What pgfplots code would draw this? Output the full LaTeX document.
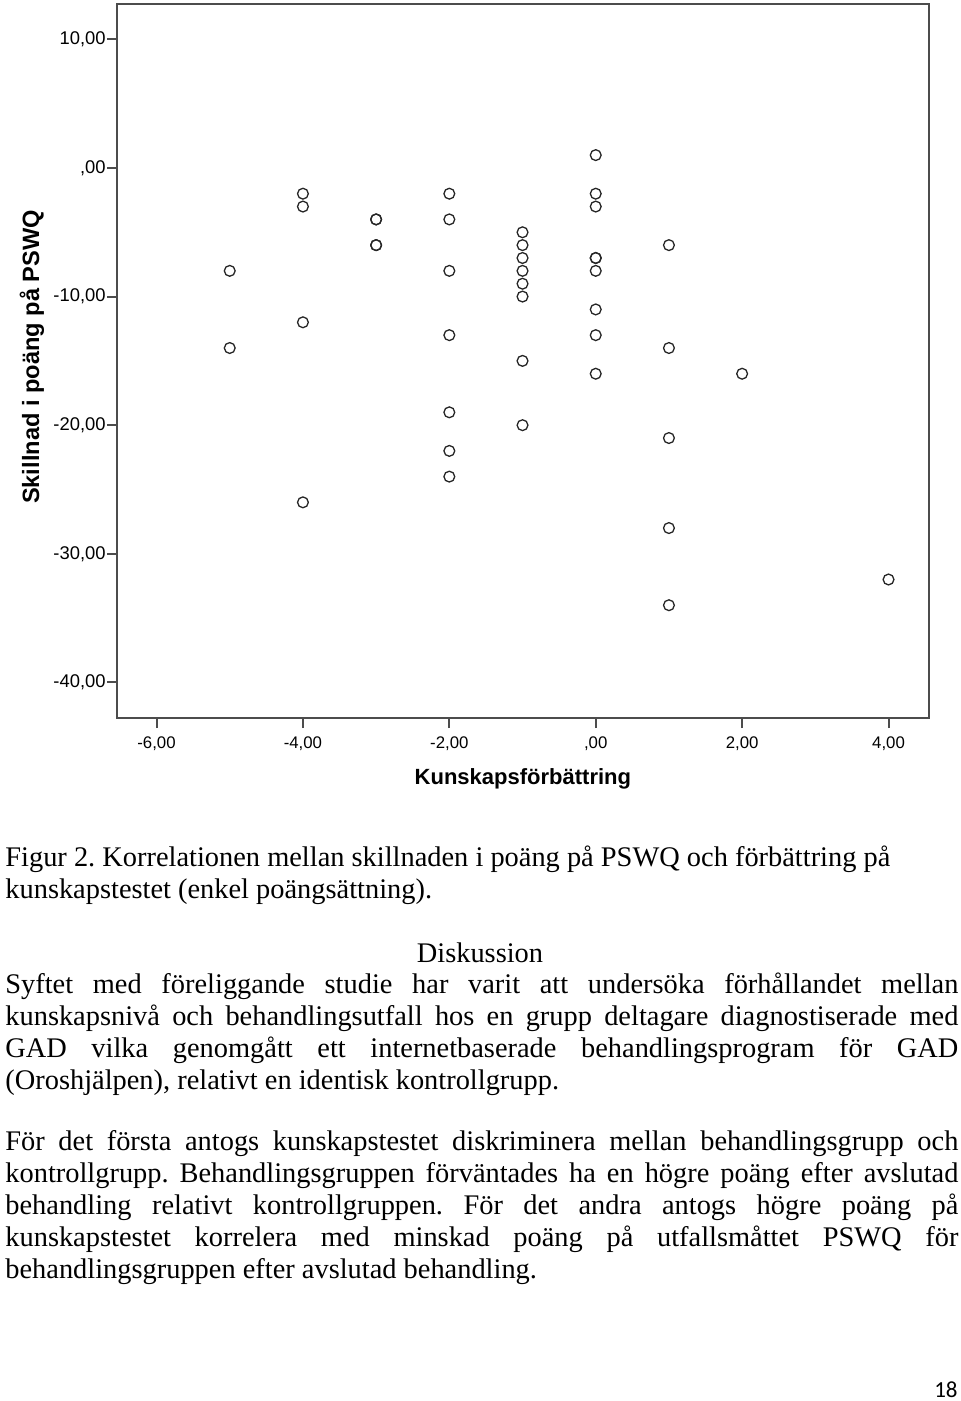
\documentclass[border=0pt]{standalone}
\usepackage{pgfplots}
\pgfplotsset{compat=1.18}
\usepackage{fontspec}
\setmainfont{Liberation Serif}
\newfontfamily\arialfont{Liberation Sans}
\newfontfamily\calibrifont{Carlito}
\frenchspacing

% one justified line of body text, baseline at y = -#1
\newcommand{\jline}[2]{\node[body] at (2.5pt,-#1) {\makebox[476.5pt][s]{#2}};}
\newcommand{\pline}[2]{\node[body] at (2.5pt,-#1) {#2};}

\begin{document}
\begin{tikzpicture}[
  body/.style={anchor=base west, inner sep=0pt, font=\fontsize{14.2pt}{16pt}\selectfont},
]
\path[use as bounding box] (0,0) rectangle (480pt,-700.5pt);

\begin{axis}[
  at={(58.5pt,-359pt)}, anchor=south west,
  x=36.6pt, y=6.43pt,
  xmin=-6.54, xmax=4.55, ymin=-42.77, ymax=12.75,
  axis line style={black!70, line width=1pt},
  every tick/.style={black!70, line width=1pt},
  tick align=outside, tick pos=left,
  major tick length=5pt,
  xtick={-6,-4,-2,0,2,4},
  xticklabels={{-6,00},{-4,00},{-2,00},{,00},{2,00},{4,00}},
  ytick={-40,-30,-20,-10,0,10},
  yticklabels={{-40,00},{-30,00},{-20,00},{-10,00},{,00},{10,00}},
  xticklabel style={font=\arialfont\fontsize{8.4pt}{10pt}\selectfont, inner sep=0pt, yshift=-4pt},
  yticklabel style={font=\arialfont\fontsize{9.2pt}{10pt}\selectfont, inner sep=0pt, xshift=-0.5pt},
  xlabel={Kunskapsförbättring},
  ylabel={Skillnad i poäng på PSWQ},
  xlabel style={at={(axis description cs:0.5,-0.0938)}, anchor=base,
    font=\arialfont\bfseries\fontsize{11pt}{12pt}\selectfont},
  ylabel style={at={(axis description cs:-0.096,0.5056)}, anchor=base,
    font=\arialfont\bfseries\fontsize{11.8pt}{13pt}\selectfont},
]
\addplot[only marks, mark=o, mark size=2.7pt,
  mark options={line width=0.65pt, draw=black!85}] coordinates {
  (-5,-8) (-5,-14)
  (-4,-2) (-4,-3) (-4,-12) (-4,-26)
  (-3,-4) (-3,-4) (-3,-6) (-3,-6)
  (-2,-2) (-2,-4) (-2,-8) (-2,-13) (-2,-19) (-2,-22) (-2,-24)
  (-1,-5) (-1,-6) (-1,-7) (-1,-8) (-1,-9) (-1,-10) (-1,-15) (-1,-20)
  (0,1) (0,-2) (0,-3) (0,-7) (0,-7) (0,-8) (0,-11) (0,-13) (0,-16)
  (1,-6) (1,-14) (1,-21) (1,-28) (1,-34)
  (2,-16)
  (4,-32)
};
\end{axis}

\pline{433pt}{Figur 2. Korrelationen mellan skillnaden i poäng på PSWQ och förbättring på}
\pline{449pt}{kunskapstestet (enkel poängsättning).}
\node[anchor=base, inner sep=0pt, font=\fontsize{14.2pt}{16pt}\selectfont] at (240pt,-481pt) {Diskussion};

\jline{496.5pt}{Syftet med föreliggande studie har varit att undersöka förhållandet mellan}
\jline{512.5pt}{kunskapsnivå och behandlingsutfall hos en grupp deltagare diagnostiserade med}
\jline{528.5pt}{GAD vilka genomgått ett internetbaserade behandlingsprogram för GAD}
\pline{544.5pt}{(Oroshjälpen), relativt en identisk kontrollgrupp.}

\jline{575pt}{För det första antogs kunskapstestet diskriminera mellan behandlingsgrupp och}
\jline{591pt}{kontrollgrupp. Behandlingsgruppen förväntades ha en högre poäng efter avslutad}
\jline{607pt}{behandling relativt kontrollgruppen. För det andra antogs högre poäng på}
\jline{623pt}{kunskapstestet korrelera med minskad poäng på utfallsmåttet PSWQ för}
\pline{639pt}{behandlingsgruppen efter avslutad behandling.}

\node[anchor=base east, inner sep=0pt, font=\calibrifont\fontsize{11.5pt}{12pt}\selectfont] at (479pt,-698.5pt) {18};
\end{tikzpicture}
\end{document}
